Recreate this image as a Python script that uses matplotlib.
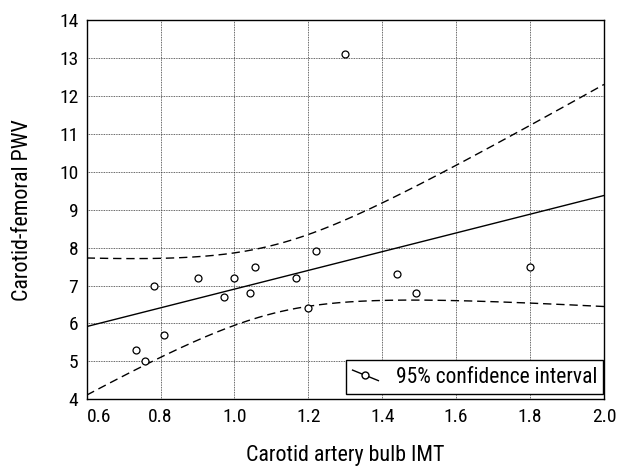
import numpy as np
import matplotlib
matplotlib.use('Agg')
import matplotlib.pyplot as plt
from matplotlib.legend_handler import HandlerBase
from matplotlib.lines import Line2D

# ── Data ──────────────────────────────────────────────────────────────────────
imt = [0.734, 0.759, 0.781, 0.810, 0.900, 0.971, 1.000, 1.041,
       1.056, 1.166, 1.199, 1.220, 1.300, 1.440, 1.491, 1.800]
pwv = [5.30, 5.00, 7.00, 5.70, 7.20, 6.70, 7.20, 6.80,
       7.50, 7.20, 6.40, 7.90, 13.10, 7.30, 6.80, 7.50]

X_TICKS = [0.6, 0.8, 1.0, 1.2, 1.4, 1.6, 1.8, 2.0]
Y_TICKS = [4, 5, 6, 7, 8, 9, 10, 11, 12, 13, 14]
X_LABEL = 'Carotid artery bulb IMT'
Y_LABEL = 'Carotid-femoral PWV'
LEGEND_TEXT = '95% confidence interval'
T_CRIT = 2.145  # t(0.975, df=14)

plt.rcParams['font.family'] = ['Roboto Condensed', 'DejaVu Sans']

# ── Linear fit + 95% CI of the mean ──────────────────────────────────────────
x = np.asarray(imt)
y = np.asarray(pwv)
n = len(x)
slope, icpt = np.polyfit(x, y, 1)
resid = y - (icpt + slope * x)
s = np.sqrt(np.sum(resid ** 2) / (n - 2))
sxx = np.sum((x - x.mean()) ** 2)

xs = np.linspace(X_TICKS[0], X_TICKS[-1], 200)
fit = icpt + slope * xs
half = T_CRIT * s * np.sqrt(1.0 / n + (xs - x.mean()) ** 2 / sxx)


class SlantHandler(HandlerBase):
    def create_artists(self, legend, orig_handle, xdescent, ydescent,
                       width, height, fontsize, trans):
        x0, x1 = -xdescent, width - xdescent
        y0, y1 = -ydescent + height * 0.85, -ydescent + height * 0.15
        seg = Line2D([x0, x1], [y0, y1], color='black', lw=1.0, transform=trans)
        dot = Line2D([(x0 + x1) / 2], [(y0 + y1) / 2], marker='o', ms=5,
                     mfc='white', mec='black', mew=1.0, ls='none', transform=trans)
        return [seg, dot]


fig = plt.figure(figsize=(6.18, 4.68), dpi=100)
ax = fig.add_axes([0.1403, 0.1468, 0.8370, 0.8105])

ax.plot(xs, fit, color='black', lw=1.0, zorder=3)
ax.plot(xs, fit + half, color='black', lw=1.0, ls=(0, (6, 3.5)), zorder=3)
ax.plot(xs, fit - half, color='black', lw=1.0, ls=(0, (6, 3.5)), zorder=3)
pts, = ax.plot(imt, pwv, ls='none', marker='o', ms=5, mfc='white',
               mec='black', mew=0.9, zorder=4)

ax.set_xlim(X_TICKS[0], X_TICKS[-1])
ax.set_ylim(Y_TICKS[0], Y_TICKS[-1])
ax.set_xticks(X_TICKS)
ax.set_xticklabels([f'{v:.1f}' for v in X_TICKS])
ax.set_yticks(Y_TICKS)
ax.tick_params(length=0, labelsize=14, pad=6, colors='black')
ax.get_xticklabels()[0].set_ha('left')

ax.grid(True, color='#333333', lw=0.6, ls=(0, (1, 1)), zorder=0)
for sp in ax.spines.values():
    sp.set_linewidth(1.0)
    sp.set_color('black')

ax.set_xlabel(X_LABEL, fontsize=15.8, labelpad=14)
ax.set_ylabel(Y_LABEL, fontsize=15.8, labelpad=19)

leg = ax.legend([pts], [LEGEND_TEXT], handler_map={pts: SlantHandler()},
                loc='lower right', bbox_to_anchor=(0.999, 0.013),
                fontsize=15.5, handlelength=1.2, handletextpad=0.8,
                borderaxespad=0, fancybox=False, framealpha=1,
                edgecolor='black', borderpad=0.3)
leg.get_frame().set_linewidth(1.0)

fig.savefig('out.png', dpi=100, facecolor='white')
